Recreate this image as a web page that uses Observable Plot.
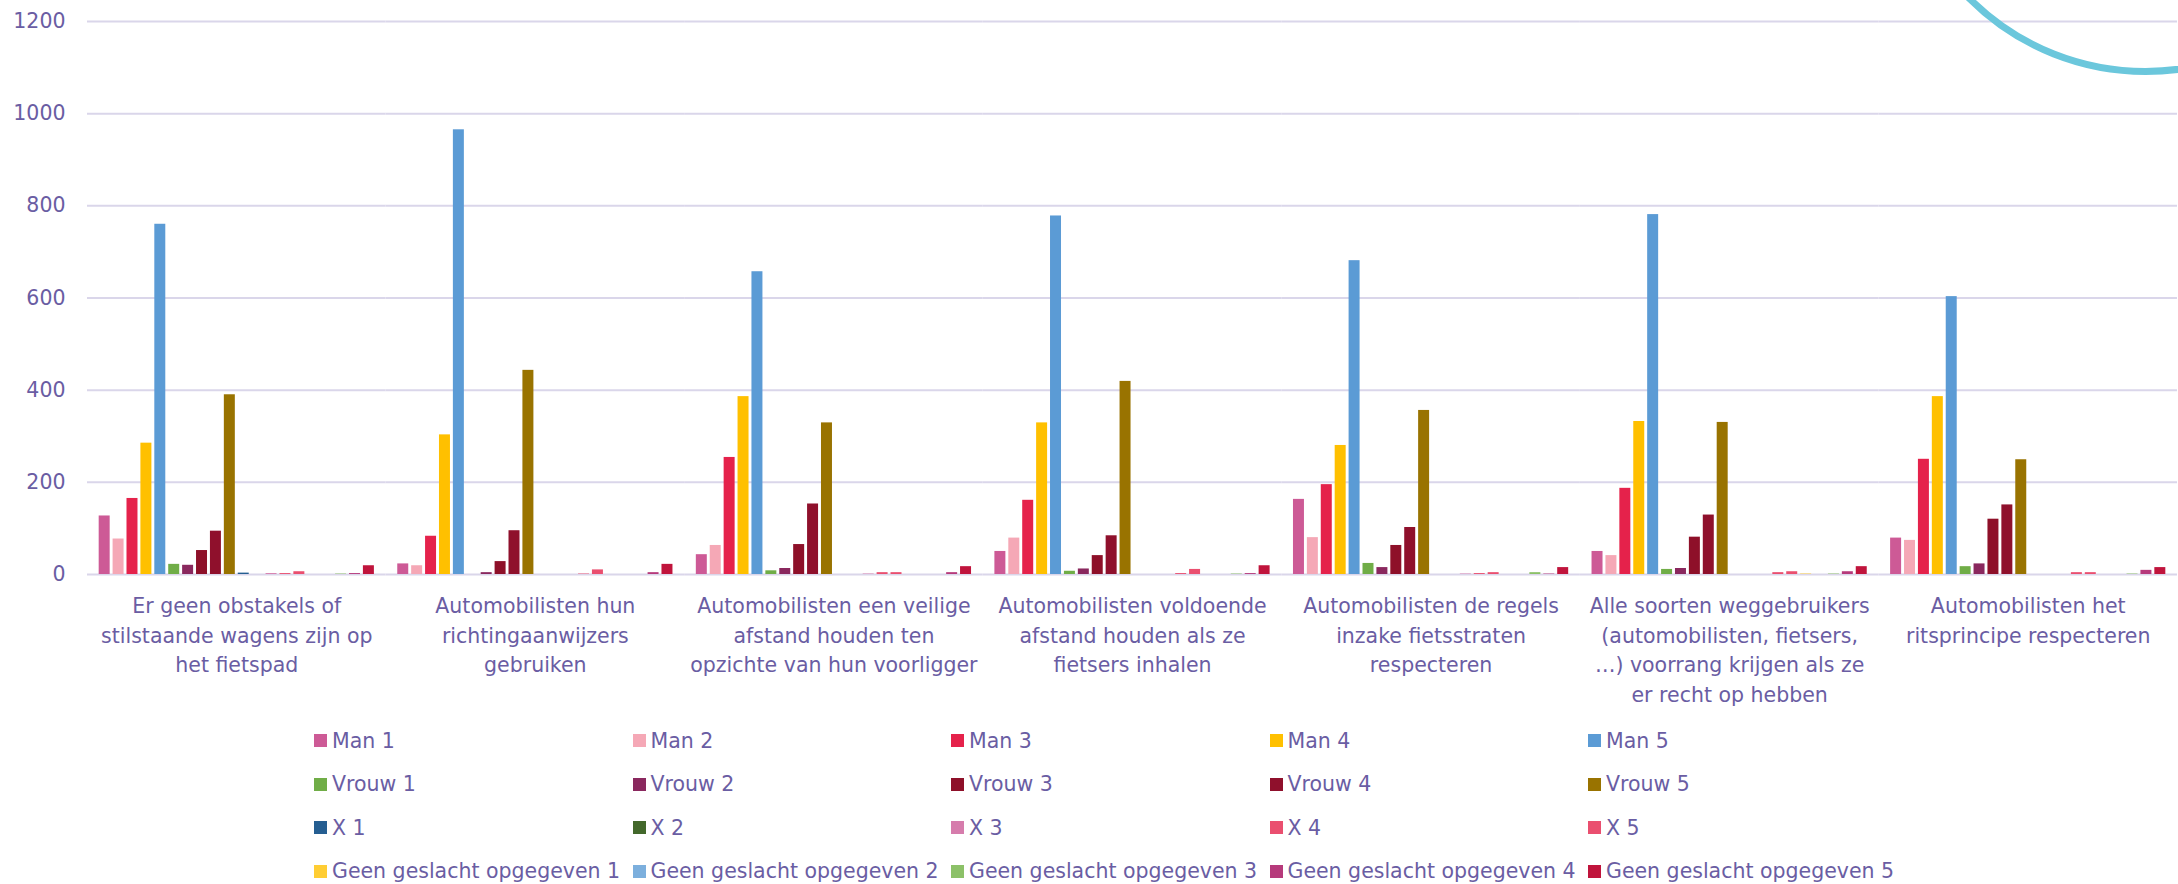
<!DOCTYPE html>
<html><head><meta charset="utf-8">
<script src="https://cdn.jsdelivr.net/npm/d3@7"></script>
<script src="https://cdn.jsdelivr.net/npm/@observablehq/plot@0.6"></script>
<style>
body{margin:0;background:#fff;}
#wrap{position:relative;width:2178px;height:884px;overflow:hidden;font-family:"DejaVu Sans",sans-serif;color:#6A5DA3;background:#fff;}
#chart{position:absolute;left:0;top:0;}
#legend{position:absolute;left:314px;top:719px;}
.row{display:flex;height:43.5px;align-items:center;}
.item{display:flex;align-items:center;width:318.5px;font-size:20.5px;white-space:nowrap;}
.sw{width:13px;height:13px;margin-right:5px;flex:none;}
#arc{position:absolute;left:1893px;top:-430px;width:505px;height:505px;border:7px solid #6BC7DC;border-radius:50%;box-sizing:border-box;}
</style></head>
<body>
<div id="wrap"><div id="chart"></div><div id="legend"></div><div id="arc"></div></div>
<script>
const categories = [
  "Er geen obstakels of\nstilstaande wagens zijn op\nhet fietspad",
  "Automobilisten hun\nrichtingaanwijzers\ngebruiken",
  "Automobilisten een veilige\nafstand houden ten\nopzichte van hun voorligger",
  "Automobilisten voldoende\nafstand houden als ze\nfietsers inhalen",
  "Automobilisten de regels\ninzake fietsstraten\nrespecteren",
  "Alle soorten weggebruikers\n(automobilisten, fietsers,\n…) voorrang krijgen als ze\ner recht op hebben",
  "Automobilisten het\nritsprincipe respecteren"
];
const series = [
  "Man 1","Man 2","Man 3","Man 4","Man 5",
  "Vrouw 1","Vrouw 2","Vrouw 3","Vrouw 4","Vrouw 5",
  "X 1","X 2","X 3","X 4","X 5",
  "Geen geslacht opgegeven 1","Geen geslacht opgegeven 2","Geen geslacht opgegeven 3","Geen geslacht opgegeven 4","Geen geslacht opgegeven 5"
];
const colors = [
  "#CD5A96","#F5A8B6","#E5224B","#FFC000","#5B9BD5",
  "#70AD47","#8A285E","#8E1029","#8F102C","#997300",
  "#255E91","#43682B","#D67CAC","#EA4F6F","#EA4F6F",
  "#FFCD33","#7CAFDD","#8CC168","#B63A7B","#C0143C"
];
// one array per category, 20 values in series order
const obstakels   = [127,77,165,285,760, 22,20,52,94,390, 3,0,2,2,6, 0,0,1,2,19];
const richting    = [23,19,83,303,965, 0,4,28,95,443, 0,0,0,1,10, 0,0,0,4,22];
const voorligger  = [43,63,254,386,657, 8,13,65,153,329, 0,0,1,4,4, 0,0,0,4,17];
const inhalen     = [50,79,161,329,778, 7,12,41,84,419, 0,0,0,2,11, 0,0,1,2,19];
const fietsstraat = [163,80,195,280,681, 24,15,63,102,356, 0,0,1,2,4, 0,0,4,1,15];
const voorrang    = [50,41,187,332,781, 11,13,81,129,330, 0,0,0,4,6, 1,0,1,6,17];
const rits        = [79,74,250,386,603, 17,23,120,151,249, 0,0,0,4,4, 0,0,1,9,15];
const yTicks = [0,200,400,600,800,1000,1200];

const valuesByCategory = [obstakels, richting, voorligger, inhalen, fietsstraat, voorrang, rits];
const data = [];
categories.forEach((c, i) => series.forEach((s, j) => data.push({category: c, series: s, value: valuesByCategory[i][j]})));

const purple = "#6A5DA3";
const chart = Plot.plot({
  width: 2178, height: 715,
  marginLeft: 87, marginRight: 1, marginTop: 21, marginBottom: 141,
  style: {fontFamily: "DejaVu Sans, sans-serif", fontSize: "20.5px", color: purple, background: "white", overflow: "visible"},
  fx: {domain: categories, padding: 0, round: false, label: null},
  x: {domain: series, paddingInner: 0.21, paddingOuter: 0.84, round: false, axis: null},
  y: {domain: [0, 1200], label: null},
  color: {domain: series, range: colors},
  marks: [
    Plot.gridY(yTicks, {stroke: "#DAD6EA", strokeOpacity: 1, strokeWidth: 2}),
    Plot.barY(data, {fx: "category", x: "series", y: "value", fill: "series"}),
    Plot.axisY(yTicks, {tickSize: 0, tickPadding: 22, label: null, fill: purple, tickFormat: d => String(d)}),
    Plot.axisFx({anchor: "bottom", tickSize: 0, tickPadding: 18, lineHeight: 1.44, label: null, fill: purple})
  ]
});
document.getElementById("chart").appendChild(chart);

const legend = document.getElementById("legend");
for (let r = 0; r < 4; r++) {
  const row = document.createElement("div");
  row.className = "row";
  for (let c = 0; c < 5; c++) {
    const k = r * 5 + c;
    const item = document.createElement("div");
    item.className = "item";
    const sw = document.createElement("span");
    sw.className = "sw";
    sw.style.background = colors[k];
    const t = document.createElement("span");
    t.textContent = series[k];
    item.appendChild(sw); item.appendChild(t);
    row.appendChild(item);
  }
  legend.appendChild(row);
}
</script>
</body></html>
